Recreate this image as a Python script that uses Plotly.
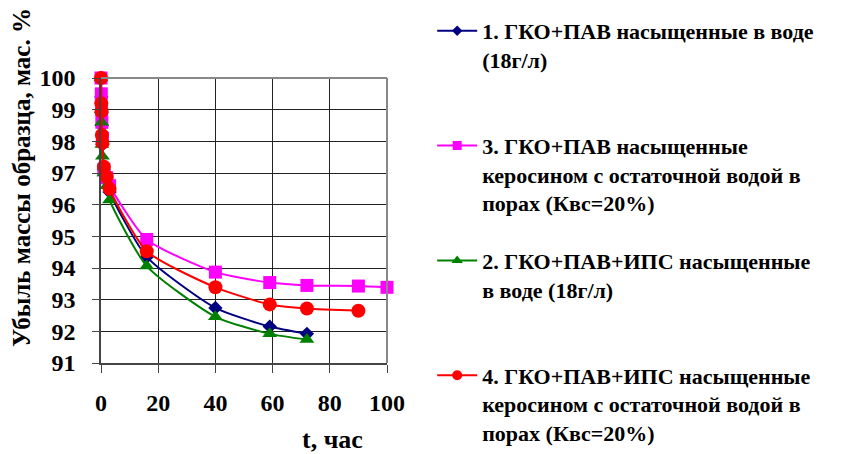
import plotly.graph_objects as go

# ---- data ----
t_short = [0, 0.1, 0.2, 0.3, 0.5, 1, 2, 3, 16, 40, 59, 72]
t_red = [0, 0.1, 0.2, 0.3, 0.5, 1, 2, 3, 16, 40, 59, 72, 90]
t_mag = [0, 0.1, 0.2, 0.3, 0.5, 1, 2, 3, 16, 40, 59, 72, 90, 100]

s1_navy = [100, 99.4, 98.9, 98.5, 97.9, 97.1, 96.75, 96.4, 94.35, 92.74, 92.15, 91.92]
s3_magenta = [100, 99.5, 99.0, 98.6, 98.1, 97.1, 96.85, 96.6, 94.9, 93.87, 93.54, 93.45, 93.43, 93.39]
s2_green = [100, 99.0, 98.6, 97.9, 97.53, 97.0, 96.6, 96.15, 94.06, 92.46, 91.92, 91.74]
s4_red = [100, 99.2, 98.95, 98.2, 97.95, 97.2, 96.88, 96.5, 94.53, 93.39, 92.85, 92.72, 92.65]

names = [
    "1. ГКО+ПАВ насыщенные в воде<br>(18г/л)<br> ",
    "3. ГКО+ПАВ насыщенные<br>керосином с остаточной водой в<br>порах (Квс=20%)",
    "2. ГКО+ПАВ+ИПС насыщенные<br>в воде (18г/л)<br> ",
    "4. ГКО+ПАВ+ИПС насыщенные<br>керосином с остаточной водой в<br>порах (Квс=20%)",
]
x_ticks = [0, 20, 40, 60, 80, 100]
y_ticks = [91, 92, 93, 94, 95, 96, 97, 98, 99, 100]

FONT = "'Times New Roman', 'Liberation Serif', 'DejaVu Serif', serif"
PAD = "<span style='color:rgba(0,0,0,0)'>0</span>"

series = [
    (t_short, s1_navy, "#000080", "diamond", 11, 8),
    (t_mag, s3_magenta, "#FF00FF", "square", 13, 9),
    (t_short, s2_green, "#008000", "triangle-up", 13, 10),
    (t_red, s4_red, "#FF0000", "circle", 14, 10),
]

fig = go.Figure()
for i, (xs, ys, col, sym, msz, lsz) in enumerate(series):
    fig.add_trace(go.Scatter(
        x=xs, y=ys, mode="lines+markers",
        line=dict(color=col, width=2, shape="spline", smoothing=0.6),
        marker=dict(symbol=sym, size=msz, color=col),
        showlegend=False, cliponaxis=False,
    ))
# legend-only entries with smaller symbols
for i, (xs, ys, col, sym, msz, lsz) in enumerate(series):
    fig.add_trace(go.Scatter(
        x=[None], y=[None], mode="lines+markers", name=names[i],
        line=dict(color=col, width=2),
        marker=dict(symbol=sym, size=lsz, color=col),
        legendgroup=str(i),
    ))

fig.update_layout(
    width=845, height=454,
    margin=dict(l=101, r=458, t=78, b=91),
    paper_bgcolor="white", plot_bgcolor="white",
    font=dict(family=FONT, color="black"),
    legend=dict(
        x=1.158, y=1.221, xanchor="left", yanchor="top",
        valign="top", tracegroupgap=26, maxheight=454,
        font=dict(family=FONT, size=22, color="black", weight="bold"),
        bgcolor="rgba(0,0,0,0)", itemwidth=40,
    ),
    showlegend=True,
)
fig.update_xaxes(
    range=[0, 100], tickvals=x_ticks, ticktext=[str(v) for v in x_ticks],
    showgrid=True, gridcolor="#222222", gridwidth=1,
    showline=True, linecolor="#444444", linewidth=1.5,
    ticks="outside", ticklen=8, tickcolor="#444444",
    ticklabelstandoff=9,
    tickfont=dict(family=FONT, size=24, color="black", weight="bold"),
    zeroline=False,
)
fig.update_yaxes(
    range=[91, 100], tickvals=y_ticks,
    ticktext=[str(v) + PAD for v in y_ticks],
    showgrid=True, gridcolor="#222222", gridwidth=1,
    showline=True, linecolor="#444444", linewidth=1.5,
    ticks="outside", ticklen=7, tickcolor="#444444",
    tickfont=dict(family=FONT, size=24, color="black", weight="bold"),
    zeroline=False,
)
# top and right gray border
fig.add_shape(type="line", xref="paper", yref="paper", x0=0, x1=1, y0=1, y1=1,
              line=dict(color="#888888", width=2))
fig.add_shape(type="line", xref="paper", yref="paper", x0=1, x1=1, y0=0, y1=1,
              line=dict(color="#888888", width=2))

fig.add_annotation(text="<b>t, час</b>", xref="paper", yref="paper",
                   x=0.808, y=-0.27, xanchor="center", yanchor="middle", showarrow=False,
                   font=dict(family=FONT, size=26, color="black"))
fig.add_annotation(text="<b>Убыль массы образца, мас. %</b>", xref="paper", yref="paper",
                   x=-0.28, y=0.652, xanchor="center", yanchor="middle", showarrow=False,
                   textangle=-90,
                   font=dict(family=FONT, size=25, color="black"))

fig.write_html("out.html", config={"displayModeBar": False},
               post_script="document.body.style.margin='0px';")
